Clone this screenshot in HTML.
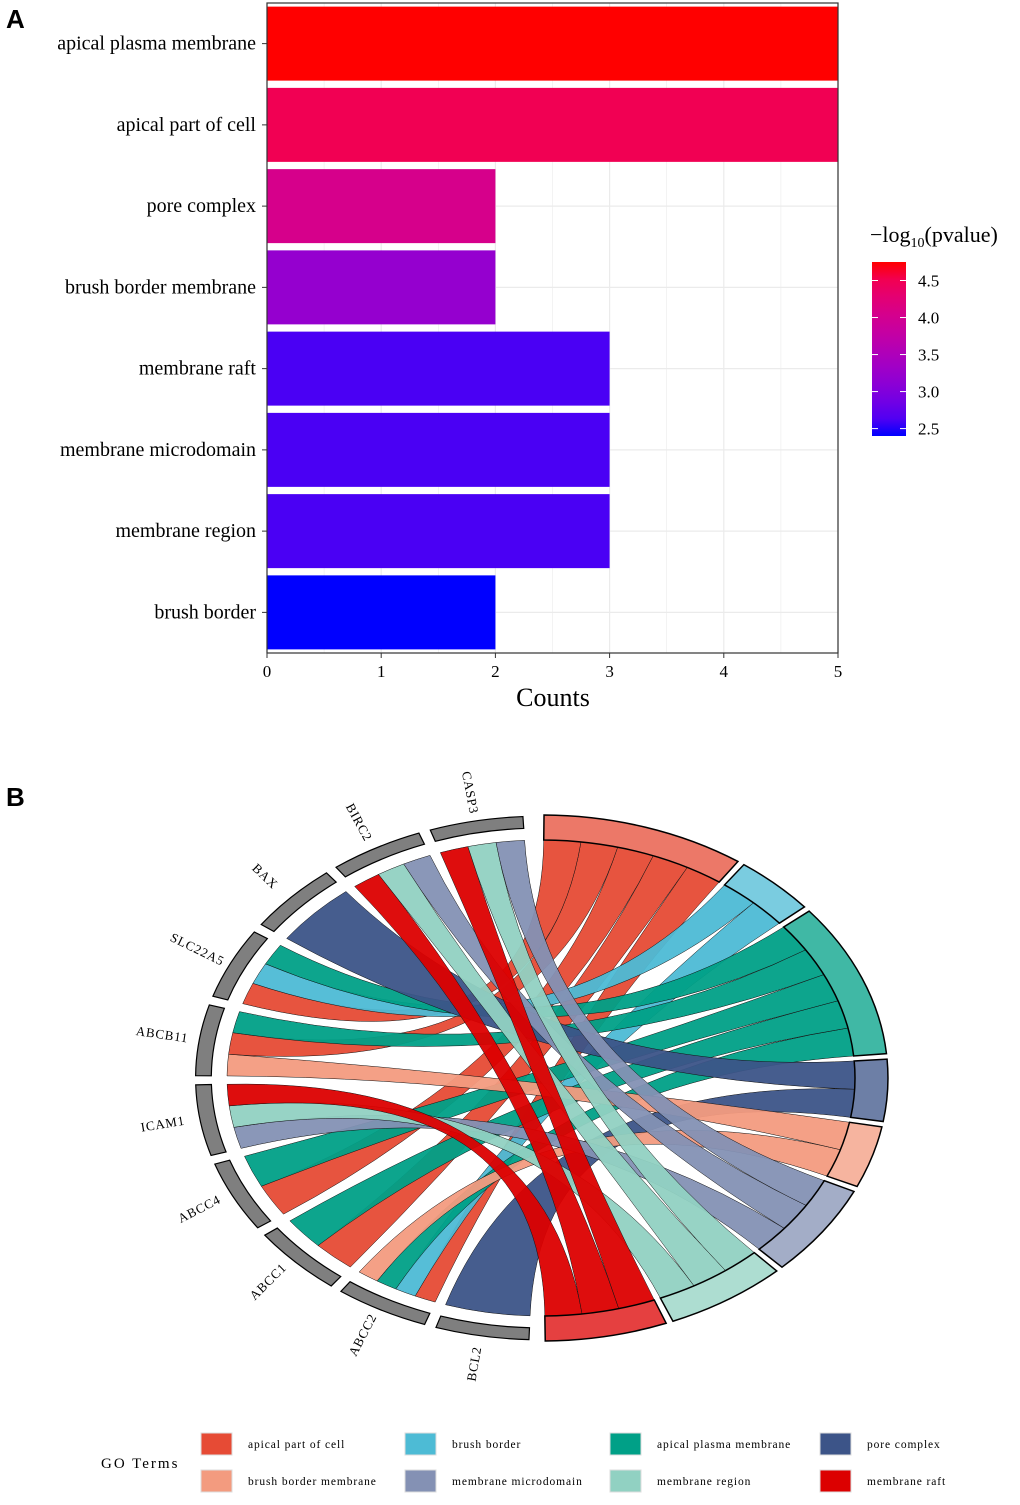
<!DOCTYPE html>
<html><head><meta charset="utf-8">
<style>
body{margin:0;background:#fff;width:1020px;height:1505px;overflow:hidden;font-family:"Liberation Serif",serif}
svg{position:absolute;left:0;top:0}
</style></head>
<body>
<svg width="1020" height="1505">
<text x="6" y="28" font-family="Liberation Sans" font-weight="bold" font-size="26">A</text>
<text x="6" y="806" font-family="Liberation Sans" font-weight="bold" font-size="26">B</text>
<g id="barchart"></g>
<g id="chord"></g>
<g id="legend"></g>
</svg>
<script>
const NS="http://www.w3.org/2000/svg";
function mk(p,t,a){const e=document.createElementNS(NS,t);for(const k in a)e.setAttribute(k,a[k]);p.appendChild(e);return e;}
// ---------- Panel A data ----------
const terms=["apical plasma membrane","apical part of cell","pore complex","brush border membrane","membrane raft","membrane microdomain","membrane region","brush border"];
const counts=[5,5,2,2,3,3,3,2];
const logp=[4.75,4.5,4.05,3.2,2.6,2.6,2.6,2.4];
const xTicks=[0,1,2,3,4,5];
const cbTicks=[4.5,4.0,3.5,3.0,2.5];
const A=document.getElementById('barchart');
const x0=267,x1=838,y0=3,y1=653,cmin=2.4,cmax=4.75;
const xs=v=>x0+v*(x1-x0)/5;
const band=(y1-y0)/terms.length;
const yc=i=>y0+band*(i+0.5);
function colT(t){t=Math.max(0,Math.min(1,t));return `rgb(${Math.round(255*Math.sqrt(t))},0,${Math.round(255*Math.sqrt(1-t))})`;}
function col(v){return colT((v-cmin)/(cmax-cmin));}
mk(A,'rect',{x:x0,y:y0,width:x1-x0,height:y1-y0,fill:'#fff'});
for(let v=0;v<=5;v+=0.5){mk(A,'line',{x1:xs(v),x2:xs(v),y1:y0,y2:y1,stroke:'#ebebeb','stroke-width':v%1?0.6:1.2});}
terms.forEach((t,i)=>{mk(A,'line',{x1:x0,x2:x1,y1:yc(i),y2:yc(i),stroke:'#ebebeb','stroke-width':1.2});});
terms.forEach((t,i)=>{
 const r=mk(A,'rect',{x:x0,y:yc(i)-37,width:xs(counts[i])-x0,height:74,fill:col(logp[i])});
 
 
 const l=mk(A,'text',{x:256,y:yc(i)+6,'text-anchor':'end','font-size':20});l.textContent=t;
 
 
 mk(A,'line',{x1:262,x2:267,y1:yc(i),y2:yc(i),stroke:'#333','stroke-width':1});
});
mk(A,'rect',{x:x0,y:y0,width:x1-x0,height:y1-y0,fill:'none',stroke:'#333','stroke-width':1.2});
xTicks.forEach(v=>{mk(A,'line',{x1:xs(v),x2:xs(v),y1:y1,y2:y1+5,stroke:'#333'});
 const t=mk(A,'text',{x:xs(v),y:677,'text-anchor':'middle','font-size':17});t.textContent=v;
 
 });
const xt=mk(A,'text',{x:553,y:706,'text-anchor':'middle','font-size':26});xt.textContent='Counts';


// colorbar
const defs=mk(A,'defs',{});const lg=mk(defs,'linearGradient',{id:'cb',x1:0,y1:0,x2:0,y2:1});
for(let k=0;k<=10;k++){mk(lg,'stop',{offset:k/10,'stop-color':colT(1-k/10)});}
const cbTop=262,cbBot=436;const cy_=v=>cbBot-(v-cmin)/(cmax-cmin)*(cbBot-cbTop);
const cb=mk(A,'rect',{x:872,y:cbTop,width:34,height:cbBot-cbTop,fill:'url(#cb)'});


cbTicks.forEach(v=>{const y=cy_(v);mk(A,'line',{x1:872,x2:878,y1:y,y2:y,stroke:'#fff'});mk(A,'line',{x1:900,x2:906,y1:y,y2:y,stroke:'#fff'});
 const t=mk(A,'text',{x:918,y:y+6,'font-size':17});t.textContent=v.toFixed(1);
 
 });
const ct=mk(A,'text',{x:870,y:242,'font-size':22});ct.innerHTML='−log<tspan font-size="14" dy="5">10</tspan><tspan dy="-5">(pvalue)</tspan>';



// ---------- Panel B data ----------
const goTerms=["apical part of cell","brush border","apical plasma membrane","pore complex","brush border membrane","membrane microdomain","membrane region","membrane raft"];
const goColors=["#E64B35","#4DBBD5","#00A087","#3C5488","#F39B7F","#8491B4","#91D1C2","#DC0000"];
const genes=["BCL2","ABCC2","ABCC1","ABCC4","ICAM1","ABCB11","SLC22A5","BAX","BIRC2","CASP3"];
const links=[["CASP3",7],["CASP3",6],["CASP3",5],["BIRC2",7],["BIRC2",6],["BIRC2",5],["BAX",3],
["SLC22A5",0],["SLC22A5",1],["SLC22A5",2],["ABCB11",4],["ABCB11",0],["ABCB11",2],
["ICAM1",5],["ICAM1",6],["ICAM1",7],["ABCC4",0],["ABCC4",2],["ABCC1",0],["ABCC1",2],
["ABCC2",0],["ABCC2",1],["ABCC2",2],["ABCC2",4],["BCL2",3]];
const C=document.getElementById('chord');
const cx=541,cyy=1078,RX=314,RY=238,D=Math.PI/180;
const P=(a,s)=>[cx+RX*s*Math.cos(a*D),cyy+RY*s*Math.sin(a*D)];
const tCount=goTerms.map((t,i)=>links.filter(l=>l[1]===i).length);
const gCount=genes.map(g=>links.filter(l=>l[0]===g).length);
const gapT=1.2,unitT=(180-gapT*8)/25;
const gapG=2.0,segG=(177-gapG*10)/10;
let tStart=[],a=-89.5;tCount.forEach((c,i)=>{tStart.push(a);a+=c*unitT+gapT;});
let gStart=[],b=92.0;gCount.forEach((c,i)=>{gStart.push(b);b+=segG+gapG;});
const tUsed=tCount.map(()=>0),gUsed=gCount.map(()=>0);
function arcPath(a1,a2,s1,s2){const p1=P(a1,s1),p2=P(a2,s1),p3=P(a2,s2),p4=P(a1,s2);
 return `M${p1}A${RX*s1} ${RY*s1} 0 0 1 ${p2}L${p3}A${RX*s2} ${RY*s2} 0 0 0 ${p4}Z`;}
const ordered=[...links].sort((p,q)=>genes.indexOf(p[0])-genes.indexOf(q[0]));
const ribbons=[];
ordered.forEach(l=>{const gi=genes.indexOf(l[0]),ti=l[1];
 const ug=segG/gCount[gi];
 const ga1=gStart[gi]+gUsed[gi]*ug,ga2=ga1+ug;gUsed[gi]++;
 const ta2=tStart[ti]+(tCount[ti]-tUsed[ti])*unitT,ta1=ta2-unitT;tUsed[ti]++;
 const g1=P(ga1,1),g2=P(ga2,1),t1=P(ta1,1),t2=P(ta2,1);
 const d=`M${g1}A${RX} ${RY} 0 0 1 ${g2}Q${cx},${cyy} ${t1}A${RX} ${RY} 0 0 1 ${t2}Q${cx},${cyy} ${g1}Z`;
 ribbons.push([d,ti,l[0]]);});
ribbons.forEach(r=>{const p=mk(C,'path',{d:r[0],fill:goColors[r[1]],stroke:'#111','stroke-width':0.5,'fill-opacity':0.95});
 
 });
goTerms.forEach((t,i)=>{const a1=tStart[i],a2=a1+tCount[i]*unitT;
 const p=mk(C,'path',{d:arcPath(a1,a2,1.0,1.105),fill:goColors[i],'fill-opacity':0.75,stroke:'#000','stroke-width':1.5});
 
 });
genes.forEach((g,i)=>{const a1=gStart[i],a2=a1+segG;
 const p=mk(C,'path',{d:arcPath(a1,a2,1.05,1.1),fill:'#7f7f7f',stroke:'#000','stroke-width':1.2});
 
 
 const am=(a1+a2)/2,q=P(am,1.22);
 const t=mk(C,'text',{x:q[0],y:q[1],'text-anchor':'middle','dominant-baseline':'middle','font-size':13,'letter-spacing':0.8,transform:`rotate(${am-180} ${q[0]} ${q[1]})`});
 t.textContent=g;
 
 });
// legend
const L=document.getElementById('legend');
const gt=mk(L,'text',{x:101,y:1468,'font-size':15,'letter-spacing':2});gt.textContent='GO Terms';


const lx=[201,405,610,820],ly=[1433,1470];
goTerms.forEach((t,i)=>{const row=Math.floor(i/4),colI=i%4;
 const x=lx[colI],y=ly[row];
 const r=mk(L,'rect',{x:x,y:y,width:31,height:22,fill:goColors[i],stroke:'#ddd'});
 
 
 const tx=mk(L,'text',{x:x+47,y:y+15,'font-size':11.5,'letter-spacing':0.9});tx.textContent=t;
 
 });
</script>
</body></html>
